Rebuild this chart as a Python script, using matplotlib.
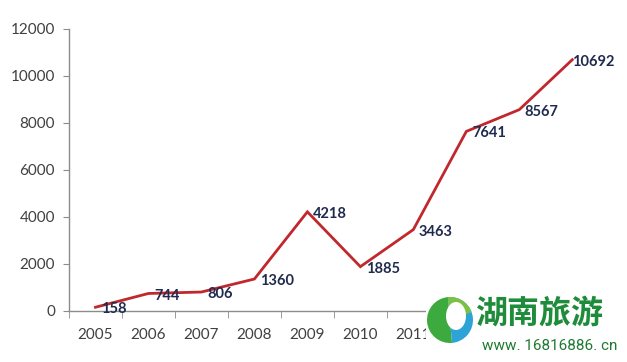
import matplotlib
matplotlib.use("Agg")
import matplotlib.pyplot as plt
from matplotlib.patches import Rectangle, Wedge, Ellipse

years = ["2005", "2006", "2007", "2008", "2009", "2010", "2011", "2012", "2013", "2014"]
values = [158, 744, 806, 1360, 4218, 1885, 3463, 7641, 8567, 10692]
y_ticks = [0, 2000, 4000, 6000, 8000, 10000, 12000]

plt.rcParams['font.family'] = ['Lato', 'DejaVu Sans']

fig = plt.figure(figsize=(6.27, 3.62), dpi=100)
ax = fig.add_axes([0.110, 0.141, 0.845, 0.779])

x = list(range(len(years)))
ax.plot(x, values, color="#C0282D", lw=2.0, solid_joinstyle="miter", zorder=3)

for xi, v in zip(x, values):
    dx = 4 if xi < len(years) - 1 else 0
    ax.annotate(str(v), (xi, v), xytext=(dx, -1.5), textcoords="offset points",
                ha="left", va="center", fontsize=10.5, fontweight="bold",
                color="#1F2A4F", zorder=4)

ax.set_xlim(-0.5, len(years) - 0.5)
ax.set_ylim(0, 12000)
ax.set_yticks(y_ticks)
ax.set_yticklabels([str(t) for t in y_ticks])
ax.set_xticks(x)
ax.set_xticklabels(years)
ax.set_xticks([i - 0.5 for i in range(len(years) + 1)], minor=True)

# labels hidden behind the watermark in the reference
for lbl in ax.get_xticklabels()[7:]:
    lbl.set_visible(False)

for s in ["top", "right"]:
    ax.spines[s].set_visible(False)
for s in ["left", "bottom"]:
    ax.spines[s].set_color("#8C8C8C")
    ax.spines[s].set_linewidth(1.0)

ax.tick_params(axis="y", length=4, color="#8C8C8C", labelsize=11, labelcolor="#404040", pad=6)
ax.tick_params(axis="x", which="major", length=0, labelsize=11, labelcolor="#404040", pad=12)
ax.tick_params(axis="x", which="minor", length=5, color="#8C8C8C")

# watermark
fig.patches.append(Rectangle((0.680, 0.0), 0.320, 0.19, transform=fig.transFigure,
                             facecolor="white", edgecolor="none", zorder=10))
tr = fig.dpi_scale_trans
cx, cy = 4.50, 0.42
fig.patches.append(Wedge((cx, cy), 0.23, 95, 275, transform=tr,
                         facecolor="#3DAA3F", edgecolor="none", zorder=11))
fig.patches.append(Wedge((cx, cy), 0.23, -85, 95, transform=tr,
                         facecolor="#2EA3D6", edgecolor="none", zorder=11))
fig.patches.append(Wedge((cx, cy), 0.23, 20, 95, transform=tr,
                         facecolor="#7CC242", edgecolor="none", zorder=11))
fig.patches.append(Ellipse((cx + 0.06, cy + 0.04), 0.2, 0.28, transform=tr,
                           facecolor="white", edgecolor="none", zorder=12))
fig.text(0.757, 0.135, "湖南旅游", family=["Noto Sans CJK SC"], fontsize=23,
         fontweight="bold", color="#1E8C3A", va="center", ha="left", zorder=13)
fig.text(0.768, 0.045, "www. 16816886. cn", fontsize=11, color="#1E7A30",
         family=["Roboto"], va="center", ha="left", zorder=13)

fig.savefig("out.png", dpi=100, facecolor="white")
